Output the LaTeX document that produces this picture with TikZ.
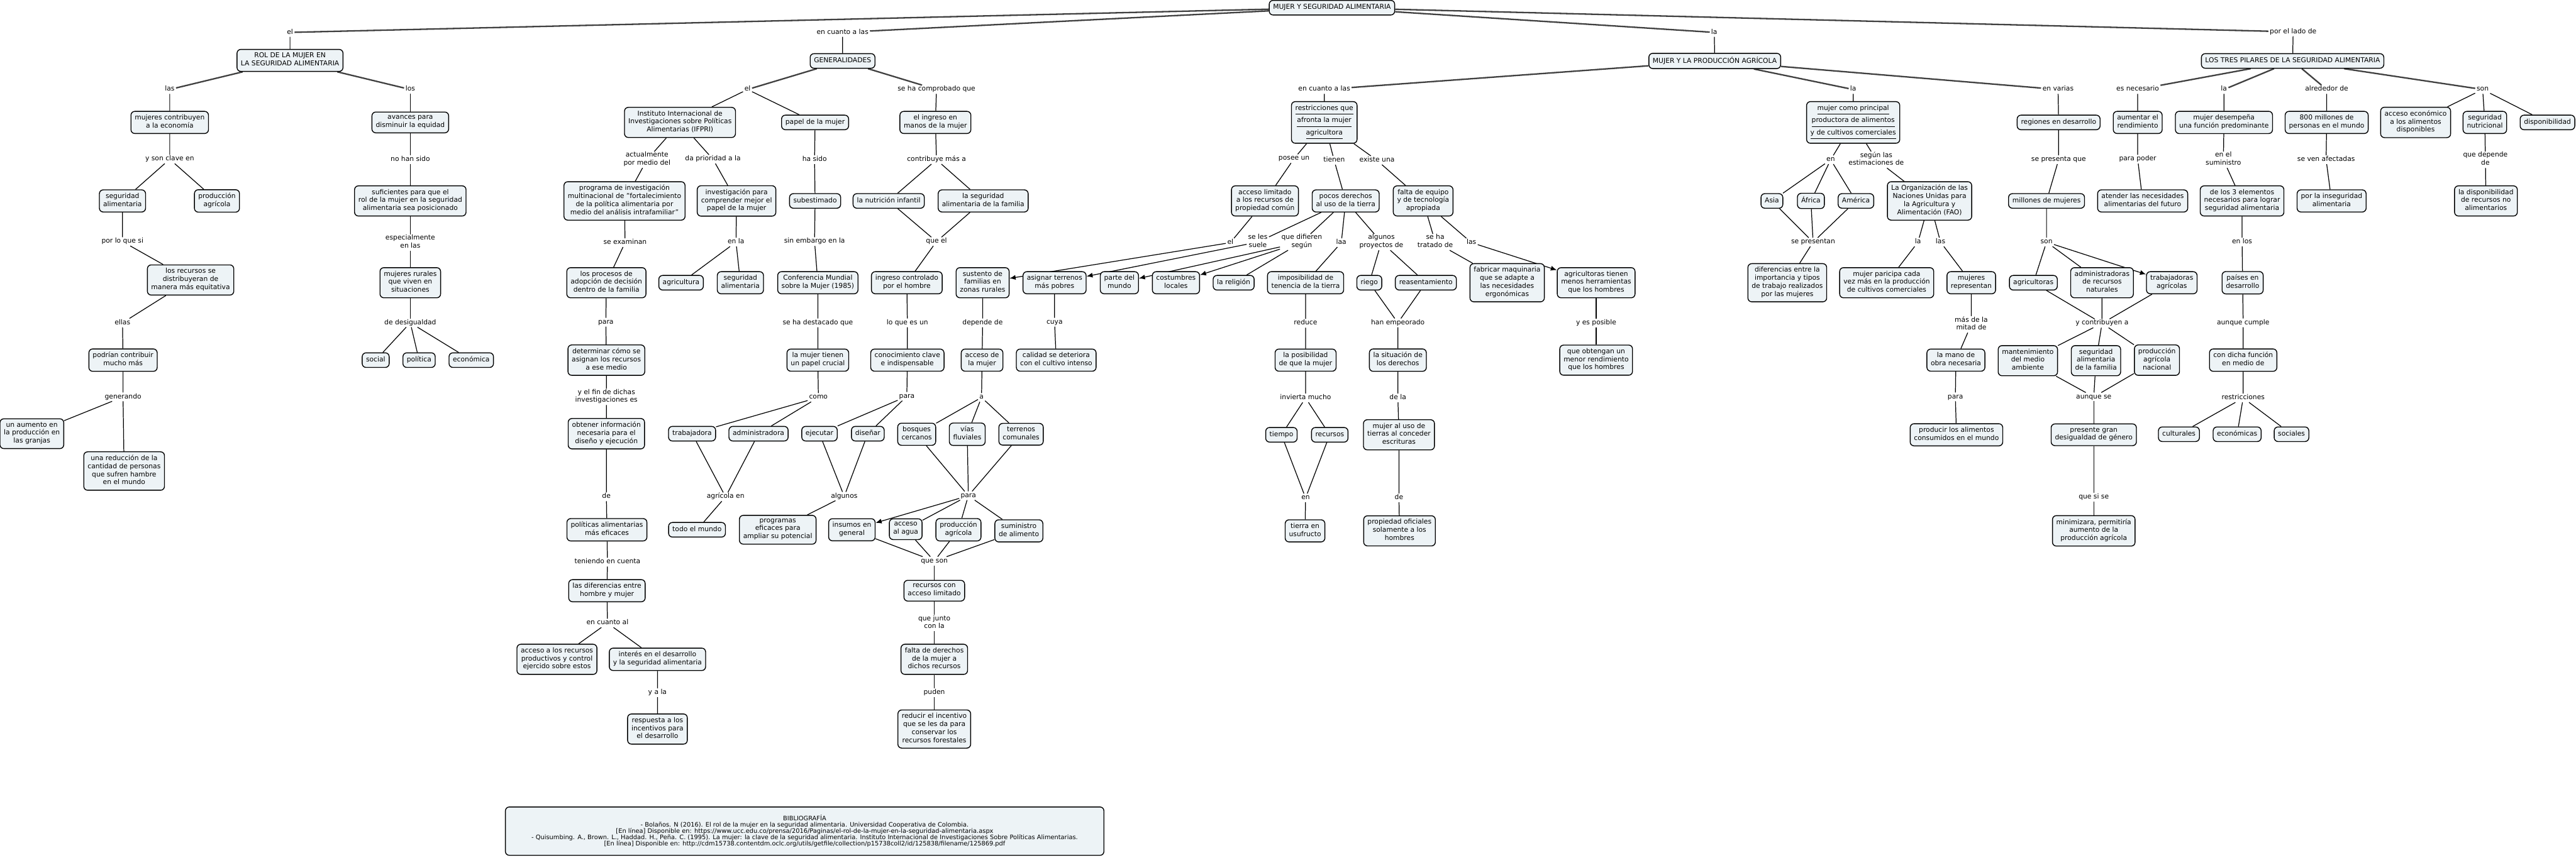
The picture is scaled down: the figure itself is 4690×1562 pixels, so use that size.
\documentclass[tikz,border=0pt]{standalone}
\usepackage{fontspec}
\setmainfont{DejaVu Sans}
\usetikzlibrary{arrows.meta,backgrounds}
\definecolor{cfill}{RGB}{237,243,246}
\newcommand{\mapfont}{\fontsize{3.5pt}{4.15pt}\selectfont}
\newcommand{\reffont}{\fontsize{3.2pt}{3.3pt}\selectfont}
\tikzset{
    concept/.style  = {rectangle, draw=black, line width=0.45pt, fill=cfill, rounded corners=0.07cm,
                       align=center, inner xsep=0.07cm, inner ysep=0.06cm, font=\mapfont,
                       execute at begin node=\strut, execute at end node=\strut},
    phrase/.style   = {inner xsep=0.02cm, inner ysep=0cm, align=center, font=\mapfont,
                       execute at begin node=\strut, execute at end node=\strut},
    link/.style     = {draw=black, line width=0.4pt},
    mainlink/.style = {draw=black!75, line width=0.75pt},
    arrlink/.style  = {link, -{Latex[length=0.11cm,width=0.09cm]}},
    bibbox/.style   = {concept, font=\reffont, minimum width=10.89cm, minimum height=0.88cm}
}

\begin{document}
\begin{tikzpicture}[x=0.01cm, y=-0.01cm]
    \useasboundingbox (0,0) rectangle (4690,1562);

    % Root
    \node[concept] (root) at (2425,14) {MUJER Y SEGURIDAD ALIMENTARIA};
    \node[phrase] (lEl)     at (528,59)  {el};
    \node[phrase] (lCuanto) at (1534,59) {en cuanto a las};
    \node[phrase] (lLa)     at (3121,59) {la};
    \node[phrase] (lLado)   at (4175,58) {por el lado de};

    % Rol de la mujer
    \node[concept] (rol) at (528,110) {ROL DE LA MUJER EN\\LA SEGURIDAD ALIMENTARIA};
    \node[phrase] (lLas) at (309,163) {las};
    \node[phrase] (lLos) at (747,163) {los};
    \node[concept] (contrib) at (309,223) {mujeres contribuyen\\a la economía};
    \node[concept] (avances) at (747,223) {avances para\\disminuir la equidad};
    \node[phrase] (lClave) at (309,290) {y son clave en};
    \node[phrase] (lNoHan) at (747,291) {no han sido};
    \node[concept] (segalimA) at (223,366) {seguridad\\alimentaria};
    \node[concept] (prodagrA) at (395,366) {producción\\agrícola};
    \node[concept] (suficientes) at (747,366) {suficientes para que el\\rol de la mujer en la seguridad\\alimentaria sea posicionado};
    \node[phrase] (lPorLo) at (223,440) {por lo que si};
    \node[phrase] (lEspec) at (747,442) {especialmente\\en las};
    \node[concept] (recursosEq) at (347,510) {los recursos se\\distribuyeran de\\manera más equitativa};
    \node[concept] (rurales) at (747,515) {mujeres rurales\\que viven en\\situaciones};
    \node[phrase] (lEllas) at (223,588) {ellas};
    \node[phrase] (lDesig) at (747,588) {de desigualdad};
    \node[concept] (podrian) at (224,656) {podrían contribuir\\mucho más};
    \node[concept] (social) at (684,656) {social};
    \node[concept] (politica) at (763,656) {política};
    \node[concept] (economica) at (858,656) {económica};
    \node[phrase] (lGener) at (224,723) {generando};
    \node[concept] (aumento) at (58,790) {un aumento en\\la producción en\\las granjas};
    \node[concept] (reduccion) at (226,858) {una reducción de la\\cantidad de personas\\que sufren hambre\\en el mundo};

    % Generalidades
    \node[concept] (gen) at (1534,111) {GENERALIDADES};
    \node[phrase] (lGenEl) at (1361,163) {el};
    \node[phrase] (lComprob) at (1705,163) {se ha comprobado que};
    \node[concept] (ifpri) at (1238,223) {Instituto Internacional de\\Investigaciones sobre Políticas\\Alimentarias (IFPRI)};
    \node[concept] (papel) at (1484,223) {papel de la mujer};
    \node[concept] (ingreso) at (1703,223) {el ingreso en\\manos de la mujer};
    \node[phrase] (lActual) at (1178,291) {actualmente\\por medio del};
    \node[phrase] (lPriori) at (1298,290) {da prioridad a la};
    \node[phrase] (lHaSido) at (1483,291) {ha sido};
    \node[phrase] (lContrib) at (1705,291) {contribuye más a};
    \node[concept] (programa) at (1137,366) {programa de investigación\\multinacional de "fortalecimiento\\de la política alimentaria por\\medio del análisis intrafamiliar"};
    \node[concept] (investig) at (1341,366) {investigación para\\comprender mejor el\\papel de la mujer};
    \node[concept] (subest) at (1484,366) {subestimado};
    \node[concept] (nutricion) at (1618,366) {la nutrición infantil};
    \node[concept] (segfam) at (1790,366) {la seguridad\\alimentaria de la familia};
    \node[phrase] (lExamin) at (1138,442) {se examinan};
    \node[phrase] (lEnLa) at (1340,441) {en la};
    \node[phrase] (lSinEmb) at (1483,440) {sin embargo en la};
    \node[phrase] (lQueEl) at (1705,440) {que el};
    \node[concept] (procesos) at (1104,515) {los procesos de\\adopción de decisión\\dentro de la familia};
    \node[concept] (agricultura) at (1240,515) {agricultura};
    \node[concept] (segalimB) at (1348,515) {seguridad\\alimentaria};
    \node[concept] (conferencia) at (1489,515) {Conferencia Mundial\\sobre la Mujer (1985)};
    \node[concept] (ingresoH) at (1651,515) {ingreso controlado\\por el hombre};
    \node[concept] (sustento) at (1789,515) {sustento de\\familias en\\zonas rurales};
    \node[phrase] (lPara) at (1103,587) {para};
    \node[phrase] (lDestac) at (1489,588) {se ha destacado que};
    \node[phrase] (lLoQue) at (1652,588) {lo que es un};
    \node[phrase] (lDepende) at (1789,588) {depende de};
    \node[concept] (determinar) at (1104,656) {determinar cómo se\\asignan los recursos\\a ese medio};
    \node[concept] (crucial) at (1489,656) {la mujer tienen\\un papel crucial};
    \node[concept] (conoc) at (1652,656) {conocimiento clave\\e indispensable};
    \node[concept] (accesoM) at (1788,656) {acceso de\\la mujer};
    \node[phrase] (lFin) at (1104,723) {y el fin de dichas\\investigaciones es};
    \node[phrase] (lComo) at (1490,724) {como};
    \node[phrase] (lParaB) at (1651,722) {para};
    \node[phrase] (lA) at (1787,724) {a};
    \node[concept] (obtener) at (1104,790) {obtener información\\necesaria para el\\diseño y ejecución};
    \node[concept] (trabajadora) at (1260,790) {trabajadora};
    \node[concept] (administradora) at (1381,790) {administradora};
    \node[concept] (ejecutar) at (1492,790) {ejecutar};
    \node[concept] (disenar) at (1580,790) {diseñar};
    \node[concept] (bosques) at (1669,791) {bosques\\cercanos};
    \node[concept] (vias) at (1761,791) {vías\\fluviales};
    \node[concept] (terrenos) at (1859,791) {terrenos\\comunales};
    \node[phrase] (lDe) at (1104,905) {de};
    \node[phrase] (lAgrEn) at (1321,905) {agrícola en};
    \node[phrase] (lAlgunos) at (1537,904) {algunos};
    \node[phrase] (lParaC) at (1763,903) {para};
    \node[concept] (politicas) at (1105,965) {políticas alimentarias\\más eficaces};
    \node[concept] (todo) at (1269,965) {todo el mundo};
    \node[concept] (programas) at (1416,965) {programas\\eficaces para\\ampliar su potencial};
    \node[concept] (insumos) at (1551,965) {insumos en\\general};
    \node[concept] (agua) at (1649,964) {acceso\\al agua};
    \node[concept] (prodagrB) at (1745,965) {producción\\agrícola};
    \node[concept] (suministro) at (1855,967) {suministro\\de alimento};
    \node[phrase] (lTeniendo) at (1106,1024) {teniendo en cuenta};
    \node[phrase] (lQueSon) at (1701,1022) {que son};
    \node[concept] (diferencias) at (1105,1076) {las diferencias entre\\hombre y mujer};
    \node[concept] (limitado) at (1701,1076) {recursos con\\acceso limitado};
    \node[phrase] (lCuantoAl) at (1106,1135) {en cuanto al};
    \node[phrase] (lJunto) at (1701,1135) {que junto\\con la};
    \node[concept] (accesoRec) at (1014,1201) {acceso a los recursos\\productivos y control\\ejercido sobre estos};
    \node[concept] (interes) at (1197,1201) {interés en el desarrollo\\y la seguridad alimentaria};
    \node[concept] (faltaDer) at (1701,1201) {falta de derechos\\de la mujer a\\dichos recursos};
    \node[phrase] (lYaLa) at (1197,1262) {y a la};
    \node[phrase] (lPuden) at (1701,1262) {puden};
    \node[concept] (respuesta) at (1197,1328) {respuesta a los\\incentivos para\\el desarrollo};
    \node[concept] (reducir) at (1701,1328) {reducir el incentivo\\que se les da para\\conservar los\\recursos forestales};

    % Mujer y la produccion agricola
    \node[concept] (prod) at (3122,111) {MUJER Y LA PRODUCCIÓN AGRÍCOLA};
    \node[phrase] (lCuantoB) at (2411,163) {en cuanto a las};
    \node[phrase] (lLaB) at (3374,163) {la};
    \node[phrase] (lVarias) at (3747,163) {en varias};
    \node[concept] (restric) at (2411,223) {\underline{restricciones que}\\\underline{afronta la mujer}\\\underline{agricultora}};
    \node[concept] (principal) at (3374,223) {\underline{mujer como principal}\\\underline{productora de alimentos}\\\underline{y de cultivos comerciales}};
    \node[concept] (regiones) at (3748,223) {regiones en desarrollo};
    \node[phrase] (lPosee) at (2356,289) {posee un};
    \node[phrase] (lTienen) at (2429,292) {tienen};
    \node[phrase] (lExiste) at (2507,292) {existe una};
    \node[phrase] (lEnB) at (3333,291) {en};
    \node[phrase] (lSegun) at (3416,291) {según las\\estimaciones de};
    \node[phrase] (lPresenta) at (3748,291) {se presenta que};
    \node[concept] (accesoLim) at (2303,366) {acceso limitado\\a los recursos de\\propiedad común};
    \node[concept] (pocos) at (2450,366) {pocos derechos\\al uso de la tierra};
    \node[concept] (faltaEq) at (2591,366) {falta de equipo\\y de tecnología\\apropiada};
    \node[concept] (asia) at (3226,366) {Asia};
    \node[concept] (africa) at (3297,366) {África};
    \node[concept] (america) at (3379,366) {América};
    \node[concept] (fao) at (3513,366) {La Organización de las\\Naciones Unidas para\\la Agricultura y\\Alimentación (FAO)};
    \node[concept] (millones) at (3726,366) {millones de mujeres};
    \node[phrase] (lElB) at (2240,442) {el};
    \node[phrase] (lSuele) at (2290,441) {se les\\suele};
    \node[phrase] (lDifieren) at (2370,441) {que difieren\\según};
    \node[phrase] (lLaa) at (2442,442) {laa};
    \node[phrase] (lProyectos) at (2515,441) {algunos\\proyectos de};
    \node[phrase] (lTratado) at (2613,441) {se ha\\tratado de};
    \node[phrase] (lLasB) at (2679,442) {las};
    \node[phrase] (lPresentan) at (3301,441) {se presentan};
    \node[phrase] (lLaC) at (3492,441) {la};
    \node[phrase] (lLasC) at (3533,441) {las};
    \node[phrase] (lSon) at (3726,441) {son};
    \node[concept] (asignar) at (1920,515) {asignar terrenos\\más pobres};
    \node[concept] (parte) at (2038,515) {parte del\\mundo};
    \node[concept] (costumbres) at (2141,515) {costumbres\\locales};
    \node[concept] (religion) at (2246,515) {la religión};
    \node[concept] (imposib) at (2377,515) {imposibilidad de\\tenencia de la tierra};
    \node[concept] (riego) at (2493,515) {riego};
    \node[concept] (reasent) at (2596,515) {reasentamiento};
    \node[concept] (fabricar) at (2744,515) {fabricar maquinaria\\que se adapte a\\las necesidades\\ergonómicas};
    \node[concept] (herram) at (2906,515) {agricultoras tienen\\menos herramientas\\que los hombres};
    \node[concept] (difer) at (3254,515) {diferencias entre la\\importancia y tipos\\de trabajo realizados\\por las mujeres};
    \node[concept] (paricipa) at (3435,515) {mujer paricipa cada\\vez más en la producción\\de cultivos comerciales};
    \node[concept] (represent) at (3589,515) {mujeres\\representan};
    \node[concept] (agricultoras) at (3702,515) {agricultoras};
    \node[concept] (administ) at (3827,515) {administradoras\\de recursos\\naturales};
    \node[concept] (trabajadoras) at (3954,515) {trabajadoras\\agrícolas};
    \node[phrase] (lCuya) at (1920,587) {cuya};
    \node[phrase] (lReduce) at (2377,589) {reduce};
    \node[phrase] (lEmpeor) at (2545,588) {han empeorado};
    \node[phrase] (lPosible) at (2906,588) {y es posible};
    \node[phrase] (lMitad) at (3589,591) {más de la\\mitad de};
    \node[phrase] (lContribuyen) at (3827,589) {y contribuyen a};
    \node[concept] (calidad) at (1923,656) {calidad se deteriora\\con el cultivo intenso};
    \node[concept] (posib) at (2377,656) {la posibilidad\\de que la mujer};
    \node[concept] (situacion) at (2545,656) {la situación de\\los derechos};
    \node[concept] (obtengan) at (2906,656) {que obtengan un\\menor rendimiento\\que los hombres};
    \node[concept] (manoObra) at (3561,656) {la mano de\\obra necesaria};
    \node[concept] (mantenim) at (3692,657) {mantenimiento\\del medio\\ambiente};
    \node[concept] (segfamB) at (3816,657) {seguridad\\alimentaria\\de la familia};
    \node[concept] (prodNac) at (3927,656) {producción\\agrícola\\nacional};
    \node[phrase] (lInvierta) at (2377,725) {invierta mucho};
    \node[phrase] (lDeLa) at (2545,725) {de la};
    \node[phrase] (lParaD) at (3560,723) {para};
    \node[phrase] (lAunque) at (3812,723) {aunque se};
    \node[concept] (tiempo) at (2333,792) {tiempo};
    \node[concept] (recursos) at (2421,792) {recursos};
    \node[concept] (escrituras) at (2547,792) {mujer al uso de\\tierras al conceder\\escrituras};
    \node[concept] (producir) at (3562,792) {producir los alimentos\\consumidos en el mundo};
    \node[concept] (desigual) at (3812,792) {presente gran\\desigualdad de género};
    \node[phrase] (lEn) at (2377,907) {en};
    \node[phrase] (lDeB) at (2547,907) {de};
    \node[phrase] (lSiSe) at (3812,906) {que si se};
    \node[concept] (usufructo) at (2376,967) {tierra en\\usufructo};
    \node[concept] (oficiales) at (2548,967) {propiedad oficiales\\solamente a los\\hombres};
    \node[concept] (minimiz) at (3812,967) {minimizara, permitiría\\aumento de la\\producción agrícola};

    % Los tres pilares
    \node[concept] (pilares) at (4174,111) {LOS TRES PILARES DE LA SEGURIDAD ALIMENTARIA};
    \node[phrase] (lNecesario) at (3892,163) {es necesario};
    \node[phrase] (lLaD) at (4049,163) {la};
    \node[phrase] (lAlrededor) at (4236,163) {alrededor de};
    \node[phrase] (lSonB) at (4520,163) {son};
    \node[concept] (rendim) at (3892,223) {aumentar el\\rendimiento};
    \node[concept] (desempena) at (4049,223) {mujer desempeña\\una función predominante};
    \node[concept] (millones800) at (4236,223) {800 millones de\\personas en el mundo};
    \node[concept] (accesoEco) at (4398,223) {acceso económico\\a los alimentos\\disponibles};
    \node[concept] (segNutri) at (4524,223) {seguridad\\nutricional};
    \node[concept] (disponib) at (4638,223) {disponibilidad};
    \node[phrase] (lPoder) at (3892,290) {para poder};
    \node[phrase] (lSuministro) at (4048,291) {en el\\suministro};
    \node[phrase] (lAfectadas) at (4235,291) {se ven afectadas};
    \node[phrase] (lDepDe) at (4525,291) {que depende\\de};
    \node[concept] (atender) at (3901,366) {atender las necesidades\\alimentarias del futuro};
    \node[concept] (elementos) at (4082,366) {de los 3 elementos\\necesarios para lograr\\seguridad alimentaria};
    \node[concept] (insegur) at (4245,366) {por la inseguridad\\alimentaria};
    \node[concept] (dispRec) at (4526,366) {la disponibilidad\\de recursos no\\alimentarios};
    \node[phrase] (lEnLos) at (4082,441) {en los};
    \node[concept] (paises) at (4083,515) {países en\\desarrollo};
    \node[phrase] (lCumple) at (4084,588) {aunque cumple};
    \node[concept] (dicha) at (4084,656) {con dicha función\\en medio de};
    \node[phrase] (lRestr) at (4084,725) {restricciones};
    \node[concept] (culturales) at (3967,791) {culturales};
    \node[concept] (economicas) at (4073,791) {económicas};
    \node[concept] (sociales) at (4172,791) {sociales};

    % Bibliografia
    \node[bibbox] (bib) at (1465,1514) {BIBLIOGRAFÍA\\
        - Bolaños. N (2016). El rol de la mujer en la seguridad alimentaria. Universidad Cooperativa de Colombia.\\
        {[}En línea{]} Disponible en: https://www.ucc.edu.co/prensa/2016/Paginas/el-rol-de-la-mujer-en-la-seguridad-alimentaria.aspx\\
        - Quisumbing. A., Brown. L., Haddad. H., Peña. C. (1995). La mujer: la clave de la seguridad alimentaria. Instituto Internacional de Investigaciones Sobre Políticas Alimentarias.\\
        {[}En línea{]} Disponible en: http://cdm15738.contentdm.oclc.org/utils/getfile/collection/p15738coll2/id/125838/filename/125869.pdf};

    \begin{scope}[on background layer]
        % Links from the root
        \draw[mainlink] (root) -- (lEl) (root) -- (lCuanto) (root) -- (lLa) (root) -- (lLado);
        \draw[link] (lEl) -- (rol) (lCuanto) -- (gen) (lLa) -- (prod) (lLado) -- (pilares);

        % Rol branch
        \draw[mainlink] (rol) -- (lLas) (rol) -- (lLos);
        \draw[link] (lLas) -- (contrib) -- (lClave) (lClave) -- (segalimA) (lClave) -- (prodagrA);
        \draw[link] (segalimA) -- (lPorLo) -- (recursosEq) -- (lEllas) -- (podrian) -- (lGener);
        \draw[link] (lGener) -- (aumento) (lGener) -- (reduccion);
        \draw[link] (lLos) -- (avances) -- (lNoHan) -- (suficientes) -- (lEspec) -- (rurales) -- (lDesig);
        \draw[link] (lDesig) -- (social) (lDesig) -- (politica) (lDesig) -- (economica);

        % Generalidades branch
        \draw[mainlink] (gen) -- (lGenEl) (gen) -- (lComprob);
        \draw[link] (lGenEl) -- (ifpri) (lGenEl) -- (papel) (lComprob) -- (ingreso);
        \draw[link] (ifpri) -- (lActual) -- (programa) -- (lExamin) -- (procesos) -- (lPara) -- (determinar) -- (lFin) -- (obtener) -- (lDe) -- (politicas) -- (lTeniendo) -- (diferencias) -- (lCuantoAl);
        \draw[link] (lCuantoAl) -- (accesoRec) (lCuantoAl) -- (interes) -- (lYaLa) -- (respuesta);
        \draw[link] (ifpri) -- (lPriori) -- (investig) -- (lEnLa) (lEnLa) -- (agricultura) (lEnLa) -- (segalimB);
        \draw[link] (papel) -- (lHaSido) -- (subest) -- (lSinEmb) -- (conferencia) -- (lDestac) -- (crucial) -- (lComo);
        \draw[link] (lComo) -- (trabajadora) (lComo) -- (administradora);
        \draw[link] (trabajadora) -- (lAgrEn) (administradora) -- (lAgrEn) (lAgrEn) -- (todo);
        \draw[link] (ingreso) -- (lContrib) (lContrib) -- (nutricion) (lContrib) -- (segfam);
        \draw[link] (nutricion) -- (lQueEl) (segfam) -- (lQueEl) (lQueEl) -- (ingresoH) -- (lLoQue) -- (conoc) -- (lParaB);
        \draw[link] (lParaB) -- (ejecutar) (lParaB) -- (disenar);
        \draw[link] (ejecutar) -- (lAlgunos) (disenar) -- (lAlgunos) (lAlgunos) -- (programas);

        % Produccion agricola branch
        \draw[mainlink] (prod) -- (lCuantoB) (prod) -- (lLaB) (prod) -- (lVarias);
        \draw[link] (lCuantoB) -- (restric) (lLaB) -- (principal) (lVarias) -- (regiones);
        \draw[link] (restric) -- (lPosee) -- (accesoLim) -- (lElB);
        \draw[arrlink] (lElB) -- (sustento);
        \draw[link] (restric) -- (lTienen) -- (pocos) (restric) -- (lExiste) -- (faltaEq);
        \draw[link] (sustento) -- (lDepende) -- (accesoM) -- (lA);
        \draw[link] (lA) -- (bosques) (lA) -- (vias) (lA) -- (terrenos);
        \draw[link] (bosques) -- (lParaC) (vias) -- (lParaC) (terrenos) -- (lParaC);
        \draw[arrlink] (lParaC) -- (insumos);
        \draw[link] (lParaC) -- (agua) (lParaC) -- (prodagrB) (lParaC) -- (suministro);
        \draw[link] (insumos) -- (lQueSon) (agua) -- (lQueSon) (prodagrB) -- (lQueSon) (suministro) -- (lQueSon);
        \draw[link] (lQueSon) -- (limitado) -- (lJunto) -- (faltaDer) -- (lPuden) -- (reducir);
        \draw[link] (pocos) -- (lSuele) (pocos) -- (lDifieren) (pocos) -- (lLaa) (pocos) -- (lProyectos);
        \draw[arrlink] (lSuele) -- (asignar);
        \draw[link] (asignar) -- (lCuya) -- (calidad);
        \draw[arrlink] (lDifieren) -- (parte);
        \draw[arrlink] (lDifieren) -- (costumbres);
        \draw[link] (lDifieren) -- (religion);
        \draw[link] (lLaa) -- (imposib) -- (lReduce) -- (posib) -- (lInvierta);
        \draw[link] (lInvierta) -- (tiempo) (lInvierta) -- (recursos) (tiempo) -- (lEn) (recursos) -- (lEn) (lEn) -- (usufructo);
        \draw[link] (lProyectos) -- (riego) (lProyectos) -- (reasent) (riego) -- (lEmpeor) (reasent) -- (lEmpeor);
        \draw[link] (lEmpeor) -- (situacion) -- (lDeLa) -- (escrituras) -- (lDeB) -- (oficiales);
        \draw[link] (faltaEq) -- (lTratado) -- (fabricar) (faltaEq) -- (lLasB);
        \draw[arrlink] (lLasB) -- (herram);
        \draw[link] (herram) -- (lPosible) -- (obtengan);
        \draw[link] (principal) -- (lEnB) (lEnB) -- (asia) (lEnB) -- (africa) (lEnB) -- (america);
        \draw[link] (asia) -- (lPresentan) (africa) -- (lPresentan) (america) -- (lPresentan) (lPresentan) -- (difer);
        \draw[link] (principal) -- (lSegun) -- (fao) (fao) -- (lLaC) -- (paricipa);
        \draw[link] (fao) -- (lLasC) -- (represent) -- (lMitad) -- (manoObra) -- (lParaD) -- (producir);
        \draw[link] (regiones) -- (lPresenta) -- (millones) -- (lSon) (lSon) -- (agricultoras) (lSon) -- (administ);
        \draw[arrlink] (lSon) -- (trabajadoras);
        \draw[link] (agricultoras) -- (lContribuyen) (administ) -- (lContribuyen) (trabajadoras) -- (lContribuyen);
        \draw[link] (lContribuyen) -- (mantenim) (lContribuyen) -- (segfamB) (lContribuyen) -- (prodNac);
        \draw[link] (mantenim) -- (lAunque) (segfamB) -- (lAunque) (prodNac) -- (lAunque);
        \draw[link] (lAunque) -- (desigual) -- (lSiSe) -- (minimiz);

        % Pilares branch
        \draw[mainlink] (pilares) -- (lNecesario) (pilares) -- (lLaD) (pilares) -- (lAlrededor) (pilares) -- (lSonB);
        \draw[link] (lNecesario) -- (rendim) -- (lPoder) -- (atender);
        \draw[link] (lLaD) -- (desempena) -- (lSuministro) -- (elementos) -- (lEnLos) -- (paises) -- (lCumple) -- (dicha) -- (lRestr);
        \draw[link] (lRestr) -- (culturales) (lRestr) -- (economicas) (lRestr) -- (sociales);
        \draw[link] (lAlrededor) -- (millones800) -- (lAfectadas) -- (insegur);
        \draw[link] (lSonB) -- (accesoEco) (lSonB) -- (segNutri) (lSonB) -- (disponib);
        \draw[link] (segNutri) -- (lDepDe) -- (dispRec);
    \end{scope}
\end{tikzpicture}
\end{document}
